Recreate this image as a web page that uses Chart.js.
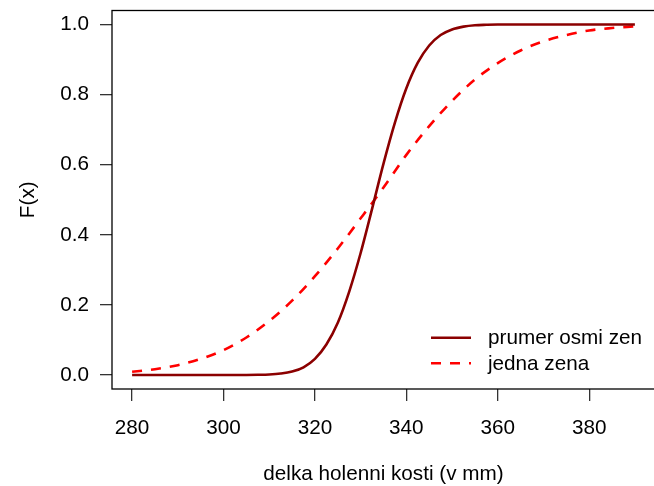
<!DOCTYPE html>
<html>
<head>
<meta charset="utf-8">
<script src="https://cdn.jsdelivr.net/npm/chart.js@4/dist/chart.umd.min.js"></script>
<style>
  html, body { margin: 0; padding: 0; background: #fff; }
  #wrap { width: 654px; height: 486px; overflow: hidden; }
  #wrap div { width: 660px; height: 486px; }
</style>
</head>
<body>
<div id="wrap"><div><canvas id="cdfChart" width="660" height="486"></canvas></div></div>
<script>
// delka holenni kosti (mm) -> F(x)
const meanX = [280, 285, 290, 295, 300, 302.5, 305, 307.5, 310, 312.5, 315, 317.5, 320, 322.5, 325, 327.5,
  330, 332.5, 335, 337.5, 340, 342.5, 345, 347.5, 350, 352.5, 355, 357.5, 360, 365, 370, 380, 390];
const meanF = [0, 0, 0, 0, 0, 0, 0.0001, 0.0005, 0.0014, 0.004, 0.0097, 0.022, 0.046, 0.087, 0.149, 0.238,
  0.348, 0.474, 0.603, 0.72, 0.818, 0.891, 0.94, 0.97, 0.986, 0.994, 0.998, 0.9993, 1, 1, 1, 1, 1];

const oneX = [280, 285, 290, 295, 300, 305, 310, 315, 320, 325, 330, 335, 340, 345, 350, 355, 360, 365, 370, 375, 380, 385, 390];
const oneF = [0.0092, 0.0166, 0.028, 0.046, 0.071, 0.107, 0.154, 0.212, 0.282, 0.361, 0.447, 0.535,
  0.628, 0.71, 0.782, 0.843, 0.89, 0.926, 0.952, 0.97, 0.983, 0.99, 0.995];

const seriesNames = ['prumer osmi zen', 'jedna zena'];
const xTicks = [280, 300, 320, 340, 360, 380];
const yTicks = [0.0, 0.2, 0.4, 0.6, 0.8, 1.0];

const FONT = { family: '"Liberation Sans", Arial, Helvetica, sans-serif', size: 20.7 };

const toPoints = (xs, ys) => xs.map((x, i) => ({ x: x, y: ys[i] }));

// R-like box plus legend inside the plot
const boxAndLegend = {
  id: 'boxAndLegend',
  afterDraw(chart) {
    const ctx = chart.ctx;
    const a = chart.chartArea;
    ctx.save();
    ctx.strokeStyle = '#000';
    ctx.lineWidth = 1.3;
    ctx.strokeRect(a.left, a.top, a.right - a.left, a.bottom - a.top);

    const rows = [337.7, 363.3];
    chart.data.datasets.forEach((ds, i) => {
      ctx.strokeStyle = ds.borderColor;
      ctx.lineWidth = ds.borderWidth;
      ctx.setLineDash(ds.borderDash || []);
      ctx.beginPath();
      ctx.moveTo(431, rows[i]);
      ctx.lineTo(471, rows[i]);
      ctx.stroke();
      ctx.setLineDash([]);
      ctx.fillStyle = '#000';
      ctx.font = FONT.size + 'px ' + FONT.family;
      ctx.textBaseline = 'middle';
      ctx.textAlign = 'left';
      ctx.fillText(ds.label, 488, rows[i] + 1);
    });
    ctx.restore();
  }
};

new Chart(document.getElementById('cdfChart').getContext('2d'), {
  type: 'line',
  data: {
    datasets: [
      {
        label: seriesNames[0],
        data: toPoints(meanX, meanF),
        borderColor: '#8B0000',
        borderWidth: 2.6,
        pointRadius: 0,
        cubicInterpolationMode: 'monotone'
      },
      {
        label: seriesNames[1],
        data: toPoints(oneX, oneF),
        borderColor: '#FF0000',
        borderWidth: 2.6,
        borderDash: [10, 9],
        pointRadius: 0,
        cubicInterpolationMode: 'monotone'
      }
    ]
  },
  options: {
    responsive: false,
    animation: false,
    layout: { padding: { left: 0, right: 5, top: 10.5, bottom: 0 } },
    plugins: { legend: { display: false }, tooltip: { enabled: false } },
    scales: {
      x: {
        type: 'linear',
        min: 275.6,
        max: 394.4,
        afterBuildTicks: s => { s.ticks = xTicks.map(v => ({ value: v })); },
        afterFit: s => { s.height = 97; s.paddingLeft = 0; s.paddingRight = 0; },
        grid: { drawOnChartArea: false, drawTicks: true, tickLength: 12, color: '#333', lineWidth: 1.3 },
        border: { display: false },
        ticks: { color: '#000', font: FONT, padding: 15, maxRotation: 0, callback: v => String(v) },
        title: { display: true, text: 'delka holenni kosti (v mm)', color: '#000', font: FONT, padding: { top: 0, bottom: -1 } }
      },
      y: {
        type: 'linear',
        min: -0.04,
        max: 1.04,
        afterBuildTicks: s => { s.ticks = yTicks.map(v => ({ value: v })); },
        afterFit: s => { s.width = 112; s.paddingTop = 0; s.paddingBottom = 0; },
        grid: { drawOnChartArea: false, drawTicks: true, tickLength: 12, color: '#333', lineWidth: 1.3 },
        border: { display: false },
        ticks: { color: '#000', font: FONT, padding: 11, callback: v => v.toFixed(1) },
        title: { display: true, text: 'F(x)', color: '#000', font: FONT, padding: { top: 16, bottom: 0 } }
      }
    }
  },
  plugins: [boxAndLegend]
});
</script>
</body>
</html>
